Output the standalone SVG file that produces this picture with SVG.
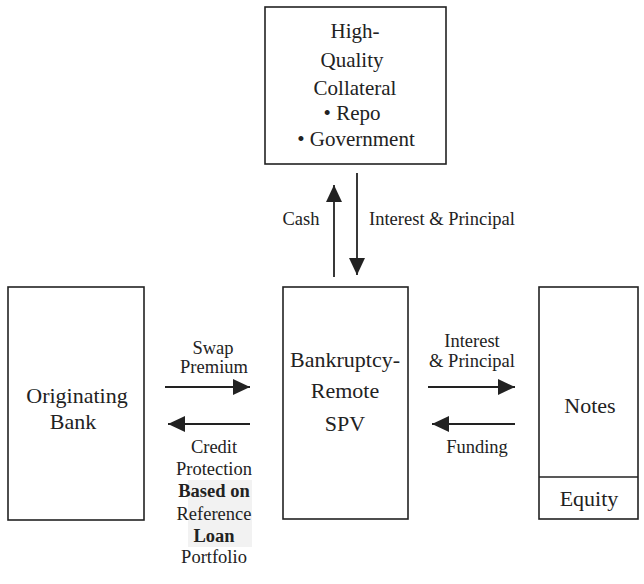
<svg xmlns="http://www.w3.org/2000/svg" width="644" height="584" viewBox="0 0 644 584">
<style>
.box{fill:#fff;stroke:#222;stroke-width:1.6}
.t{font-family:"Liberation Serif","Times New Roman",serif;fill:#222;text-anchor:middle}
.big{font-size:22px}
.mid{font-size:21px}
.lab{font-size:18.5px}
.con{stroke:#222;stroke-width:1.8;fill:none}
</style>
<defs>
<marker id="ah" viewBox="0 0 17 16" refX="17" refY="8" markerWidth="17" markerHeight="16" markerUnits="userSpaceOnUse" orient="auto">
<path d="M0,0 L17,8 L0,16 z" fill="#222"/>
</marker>
</defs>
<rect width="644" height="584" fill="#fff"/>
<g id="collateral">
<rect class="box" x="265" y="7" width="181" height="157"/>
<text class="t mid" x="355" y="38">High-</text>
<text class="t mid" x="352" y="67">Quality</text>
<text class="t mid" x="355" y="95">Collateral</text>
<text class="t mid" x="352" y="120">• Repo</text>
<text class="t mid" x="356" y="146">• Government</text>
</g>
<g id="bank">
<rect class="box" x="8" y="287" width="136" height="233"/>
<text class="t big" x="77" y="403">Originating</text>
<text class="t big" x="73" y="429">Bank</text>
</g>
<g id="spv">
<rect class="box" x="283" y="287" width="125" height="232"/>
<text class="t big" x="345" y="367">Bankruptcy-</text>
<text class="t big" x="345" y="398">Remote</text>
<text class="t big" x="345" y="431">SPV</text>
</g>
<g id="notes">
<rect class="box" x="539" y="287" width="99" height="232"/>
<line class="box" x1="539" y1="477" x2="638" y2="477"/>
<text class="t big" x="590" y="413">Notes</text>
<text class="t big" x="589" y="506">Equity</text>
</g>
<g id="connectors">
<line class="con" x1="334" y1="277" x2="334" y2="185" marker-end="url(#ah)"/>
<line class="con" x1="357" y1="173" x2="357" y2="275" marker-end="url(#ah)"/>
<line class="con" x1="165" y1="387" x2="250" y2="387" marker-end="url(#ah)"/>
<line class="con" x1="250" y1="424" x2="168" y2="424" marker-end="url(#ah)"/>
<line class="con" x1="428" y1="387" x2="515" y2="387" marker-end="url(#ah)"/>
<line class="con" x1="515" y1="424" x2="432" y2="424" marker-end="url(#ah)"/>
</g>
<g id="labels">
<text class="t lab" x="301" y="225">Cash</text>
<text class="t lab" x="442" y="225">Interest &amp; Principal</text>
<text class="t lab" x="213" y="354">Swap</text>
<text class="t lab" x="214" y="373">Premium</text>
<rect x="188" y="480" width="64" height="67" fill="#f2f2f2"/>
<text class="t lab" x="214" y="453">Credit</text>
<text class="t lab" x="214" y="475">Protection</text>
<text class="t lab" x="214" y="497" font-weight="bold">Based on</text>
<text class="t lab" x="214" y="520">Reference</text>
<text class="t lab" x="214" y="542" font-weight="bold">Loan</text>
<text class="t lab" x="214" y="563">Portfolio</text>
<text class="t lab" x="472" y="347">Interest</text>
<text class="t lab" x="472" y="367">&amp; Principal</text>
<text class="t lab" x="477" y="453">Funding</text>
</g>
</svg>
